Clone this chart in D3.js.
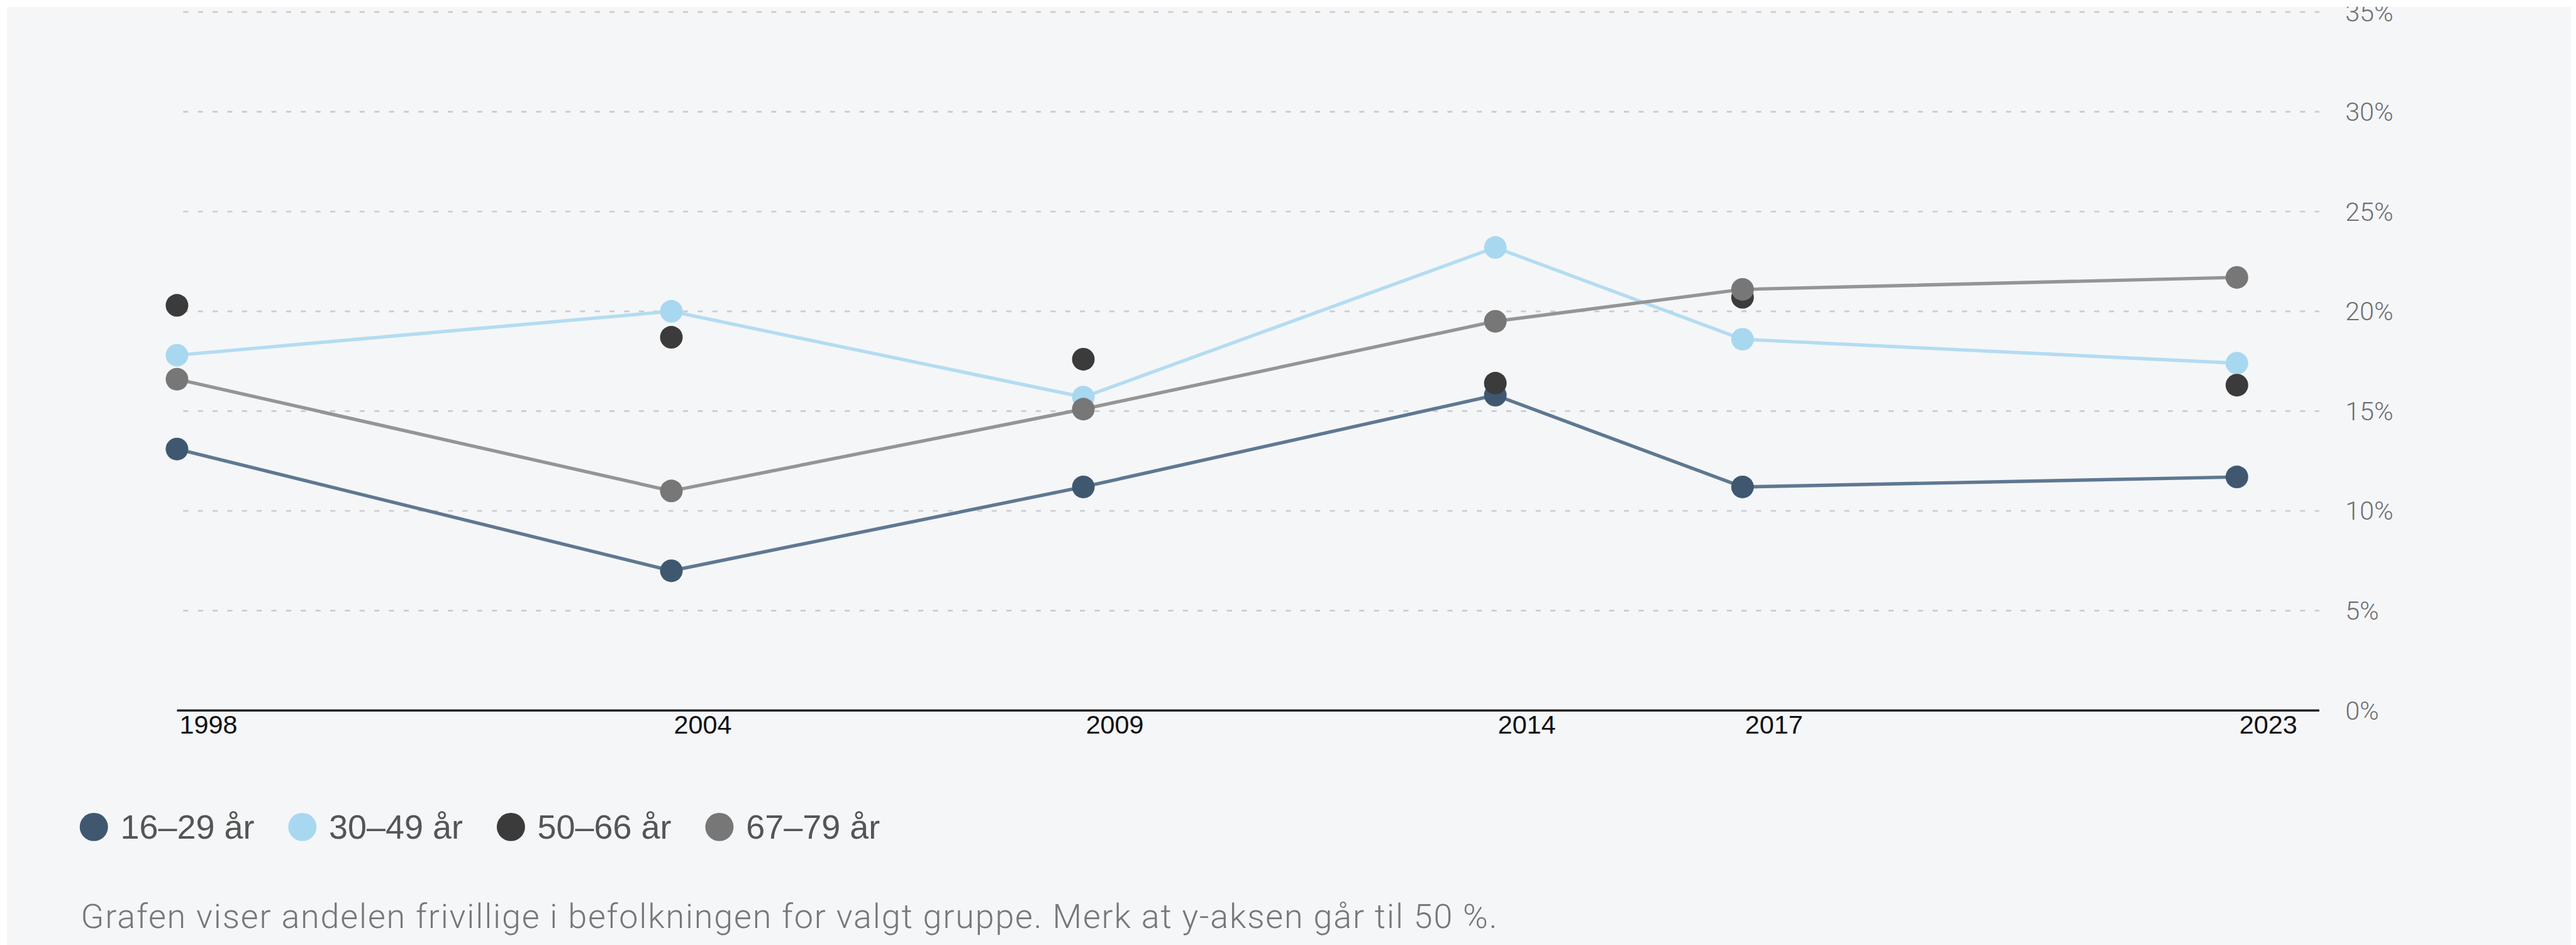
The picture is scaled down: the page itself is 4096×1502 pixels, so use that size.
<!DOCTYPE html>
<html>
<head>
<meta charset="utf-8">
<script src="https://cdn.jsdelivr.net/npm/d3@7"></script>
<style>
  html, body { margin: 0; padding: 0; background: #fff; overflow: hidden; }
  .axis-x text { font-family: "Liberation Sans", Arial, sans-serif; fill: #111; }
  .axis-y text { font-family: Roboto, sans-serif; font-weight: 300; fill: #6f6f6f; }
  .legend text { font-family: "Liberation Sans", Arial, sans-serif; fill: #555; }
  .caption { font-family: Roboto, sans-serif; font-weight: 300; fill: #777; }
</style>
</head>
<body>
<div id="chart"></div>
<script>
// data (andel frivillige, prosent)
const years = [1998, 2004, 2009, 2014, 2017, 2023];
const groups = ["16–29 år", "30–49 år", "50–66 år", "67–79 år"];
const values1629 = [13.1, 7.0, 11.2, 15.8, 11.2, 11.7];
const values3049 = [17.8, 20.0, 15.7, 23.2, 18.6, 17.4];
const values5066 = [20.3, 18.7, 17.6, 16.4, 20.7, 16.3];
const values6779 = [16.6, 11.0, 15.1, 19.5, 21.1, 21.7];
const yTicks = [0, 5, 10, 15, 20, 25, 30, 35];
const caption = "Grafen viser andelen frivillige i befolkningen for valgt gruppe. Merk at y-aksen går til 50 %.";

class DotLineChart {

  constructor(_config) {
    this.config = {
      parentElement: _config.parentElement,
      width: 4096,
      height: 1502,
      refWidth: 4556,
      refHeight: 1671
    };
    this.config.k = this.config.width / this.config.refWidth;
    this.initVis();
  }

  initVis() {
    let vis = this;

    vis.svgContainer = d3.select(vis.config.parentElement).append("svg")
        .attr("width", vis.config.width)
        .attr("height", vis.config.height);

    // everything is laid out in reference pixels, then scaled down
    vis.svg = vis.svgContainer.append("g")
        .attr("transform", "scale(" + vis.config.k + ")");

    vis.svg.append("rect")
        .attr("width", vis.config.refWidth)
        .attr("height", vis.config.refHeight)
        .attr("fill", "#fff");

    vis.svg.append("rect")
        .attr("x", 12).attr("y", 12)
        .attr("width", 4535)
        .attr("height", vis.config.refHeight - 12)
        .attr("fill", "#f5f6f8");

    // y axis runs to 50 %, the view is cut off above 35 %
    vis.xScale = d3.scaleLinear().domain([1998, 2024]).range([313, 4102]);
    vis.yScale = d3.scaleLinear().domain([0, 50]).range([1256, -508]);

    vis.series = [
      { name: groups[0], values: values1629, dot: "#3f5870", line: "#5f7892" },
      { name: groups[1], values: values3049, dot: "#a8d8f0", line: "#b3dcf2" },
      { name: groups[2], values: values5066, dot: "#3b3b3b", line: null },
      { name: groups[3], values: values6779, dot: "#777777", line: "#959595" }
    ];

    vis.updateVis();
  }

  updateVis() {
    let vis = this;
    const x0 = vis.xScale.range()[0], x1 = vis.xScale.range()[1];

    // dashed gridlines
    vis.svg.append("g")
      .selectAll("line")
      .data(yTicks.filter(d => d > 0))
      .join("line")
        .attr("x1", x0).attr("x2", x1)
        .attr("y1", d => vis.yScale(d)).attr("y2", d => vis.yScale(d))
        .attr("stroke", "#cbcccf")
        .attr("stroke-width", 3)
        .attr("stroke-dasharray", "9,17")
        .attr("stroke-dashoffset", 15);

    // y labels on the right
    vis.svg.append("g")
        .attr("class", "axis-y")
      .selectAll("text")
      .data(yTicks)
      .join("text")
        .attr("x", 4148)
        .attr("y", d => vis.yScale(d))
        .attr("dy", "0.35em")
        .attr("font-size", 46)
        .text(d => d + "%");

    // x axis
    const xAxis = d3.axisBottom(vis.xScale)
        .tickValues(years)
        .tickFormat(d3.format("d"))
        .tickSize(0)
        .tickPadding(0);

    const xg = vis.svg.append("g")
        .attr("class", "axis-x")
        .attr("transform", "translate(0," + vis.yScale(0) + ")")
        .call(xAxis);
    xg.select(".domain")
        .attr("d", "M" + x0 + ",0H" + x1)
        .attr("stroke", "#222")
        .attr("stroke-width", 4);
    xg.selectAll("text")
        .attr("text-anchor", "start")
        .attr("dx", 4)
        .attr("dy", 0)
        .attr("y", 41)
        .attr("font-size", 46);

    // lines
    const line = d3.line()
        .x((d, i) => vis.xScale(years[i]))
        .y(d => vis.yScale(d));

    vis.svg.append("g")
      .selectAll("path")
      .data(vis.series.filter(s => s.line))
      .join("path")
        .attr("d", s => line(s.values))
        .attr("fill", "none")
        .attr("stroke", s => s.line)
        .attr("stroke-width", 6);

    // dots
    vis.series.forEach(s => {
      vis.svg.append("g")
        .selectAll("circle")
        .data(s.values)
        .join("circle")
          .attr("cx", (d, i) => vis.xScale(years[i]))
          .attr("cy", d => vis.yScale(d))
          .attr("r", 20)
          .attr("fill", s.dot);
    });

    // white strip at the top clips the 35% label like the screenshot
    vis.svg.append("rect")
        .attr("width", vis.config.refWidth)
        .attr("height", 12)
        .attr("fill", "#fff");

    // legend
    const legend = vis.svg.append("g")
        .attr("class", "legend")
        .attr("transform", "translate(166,1462)");

    const item = legend.selectAll("g")
      .data(vis.series)
      .join("g")
        .attr("transform", (d, i) => "translate(" + (i * 368.8) + ",0)");

    item.append("circle")
        .attr("r", 25)
        .attr("fill", d => d.dot);

    item.append("text")
        .attr("x", 47)
        .attr("y", 21)
        .attr("font-size", 60)
        .text(d => d.name);

    vis.svg.append("text")
        .attr("class", "caption")
        .attr("x", 143)
        .attr("y", 1641)
        .attr("font-size", 60)
        .attr("letter-spacing", 2)
        .text(caption);
  }
}

new DotLineChart({ parentElement: "#chart" });
</script>
</body>
</html>
